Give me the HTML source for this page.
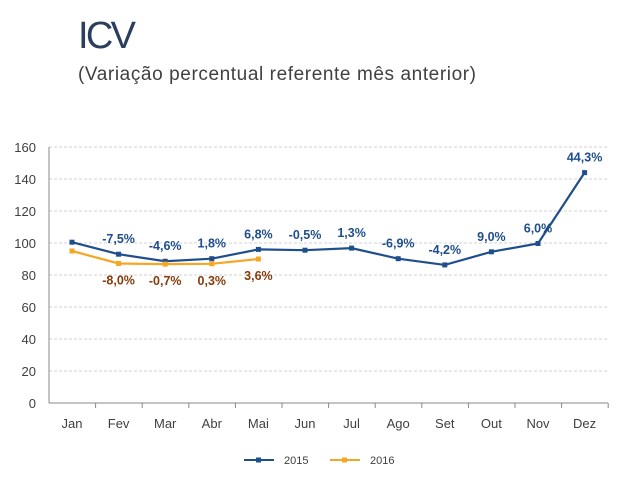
<!DOCTYPE html>
<html><head><meta charset="utf-8"><style>
body{margin:0;background:#fff;width:640px;height:482px;overflow:hidden;font-family:"Liberation Sans",sans-serif}
</style></head><body>
<svg width="640" height="482" xmlns="http://www.w3.org/2000/svg">
<text x="78" y="48" font-size="38" fill="#2a3f5f" font-family="Liberation Sans, sans-serif" textLength="58">ICV</text>
<text x="78" y="80" font-size="19" fill="#404040" textLength="398">(Variação percentual referente mês anterior)</text>
<g id="grid"></g><g id="axes"></g><g id="series"></g>
<g>
<line x1="244" y1="460" x2="274" y2="460" stroke="#1F4E8C" stroke-width="2"/><rect x="256" y="457.5" width="5" height="5" fill="#1F4E8C"/>
<text x="284" y="464" font-size="11" fill="#404040">2015</text>
<line x1="330" y1="460" x2="360" y2="460" stroke="#F5A623" stroke-width="2"/><rect x="342" y="457.5" width="5" height="5" fill="#F5A623"/>
<text x="370" y="464" font-size="11" fill="#404040">2016</text>
</g>
</svg>
<script>
const months=["Jan","Fev","Mar","Abr","Mai","Jun","Jul","Ago","Set","Out","Nov","Dez"];
const yTicks=[0,20,40,60,80,100,120,140,160];
const s2015=[100.5,93,88.6,90.2,96,95.5,96.8,90.2,86.3,94.5,99.7,144];
const s2016=[95,87.2,86.8,87,90];
const l2015=["","-7,5%","-4,6%","1,8%","6,8%","-0,5%","1,3%","-6,9%","-4,2%","9,0%","6,0%","44,3%"];
const l2016=["","-8,0%","-0,7%","0,3%","3,6%"];
const NS="http://www.w3.org/2000/svg";
const X=i=>72+i*46.6, Y=v=>403-v*1.6;
function mk(t,a,p){const e=document.createElementNS(NS,t);for(const k in a)e.setAttribute(k,a[k]);p.appendChild(e);return e;}
const grid=document.getElementById('grid'),axes=document.getElementById('axes'),ser=document.getElementById('series');
yTicks.forEach(v=>{
 if(v>0){const g=mk('line',{x1:49,x2:608,y1:Y(v),y2:Y(v),stroke:'#d0d0d0','stroke-dasharray':'3,2'},grid);
 
 }
 const t=mk('text',{x:36,y:Y(v)+5,'font-size':13,fill:'#404040','text-anchor':'end'},axes);t.textContent=v;
 
 
});
const ya=mk('line',{x1:49,x2:49,y1:147,y2:403,stroke:'#888'},axes);


const xa=mk('line',{x1:49,x2:608,y1:403,y2:403,stroke:'#888'},axes);


months.forEach((m,i)=>{
 const tk=mk('line',{x1:49+(i+1)*46.6,x2:49+(i+1)*46.6,y1:403,y2:408,stroke:'#888'},axes);
 
 
 const t=mk('text',{x:X(i),y:428,'font-size':13,fill:'#404040','text-anchor':'middle'},axes);t.textContent=m;
 
 
});
function draw(data,labels,color,lcolor,above,name){
 const p=mk('polyline',{points:data.map((v,i)=>X(i)+','+Y(v)).join(' '),fill:'none',stroke:color,'stroke-width':2.2},ser);
 
 
 data.forEach((v,i)=>{
  const r=mk('rect',{x:X(i)-2.5,y:Y(v)-2.5,width:5,height:5,fill:color},ser);
  
  
  if(labels[i]){
   const t=mk('text',{x:X(i),y:above?Y(v)-11:Y(v)+21,'font-size':12.5,'font-weight':'bold',fill:lcolor,'text-anchor':'middle'},ser);
   t.textContent=labels[i];
   
   
  }
 });
}
draw(s2015,l2015,'#1F4E8C','#1F4E8C',true,'series-2015');
draw(s2016,l2016,'#F5A623','#843C0C',false,'series-2016');
</script>
</body></html>
